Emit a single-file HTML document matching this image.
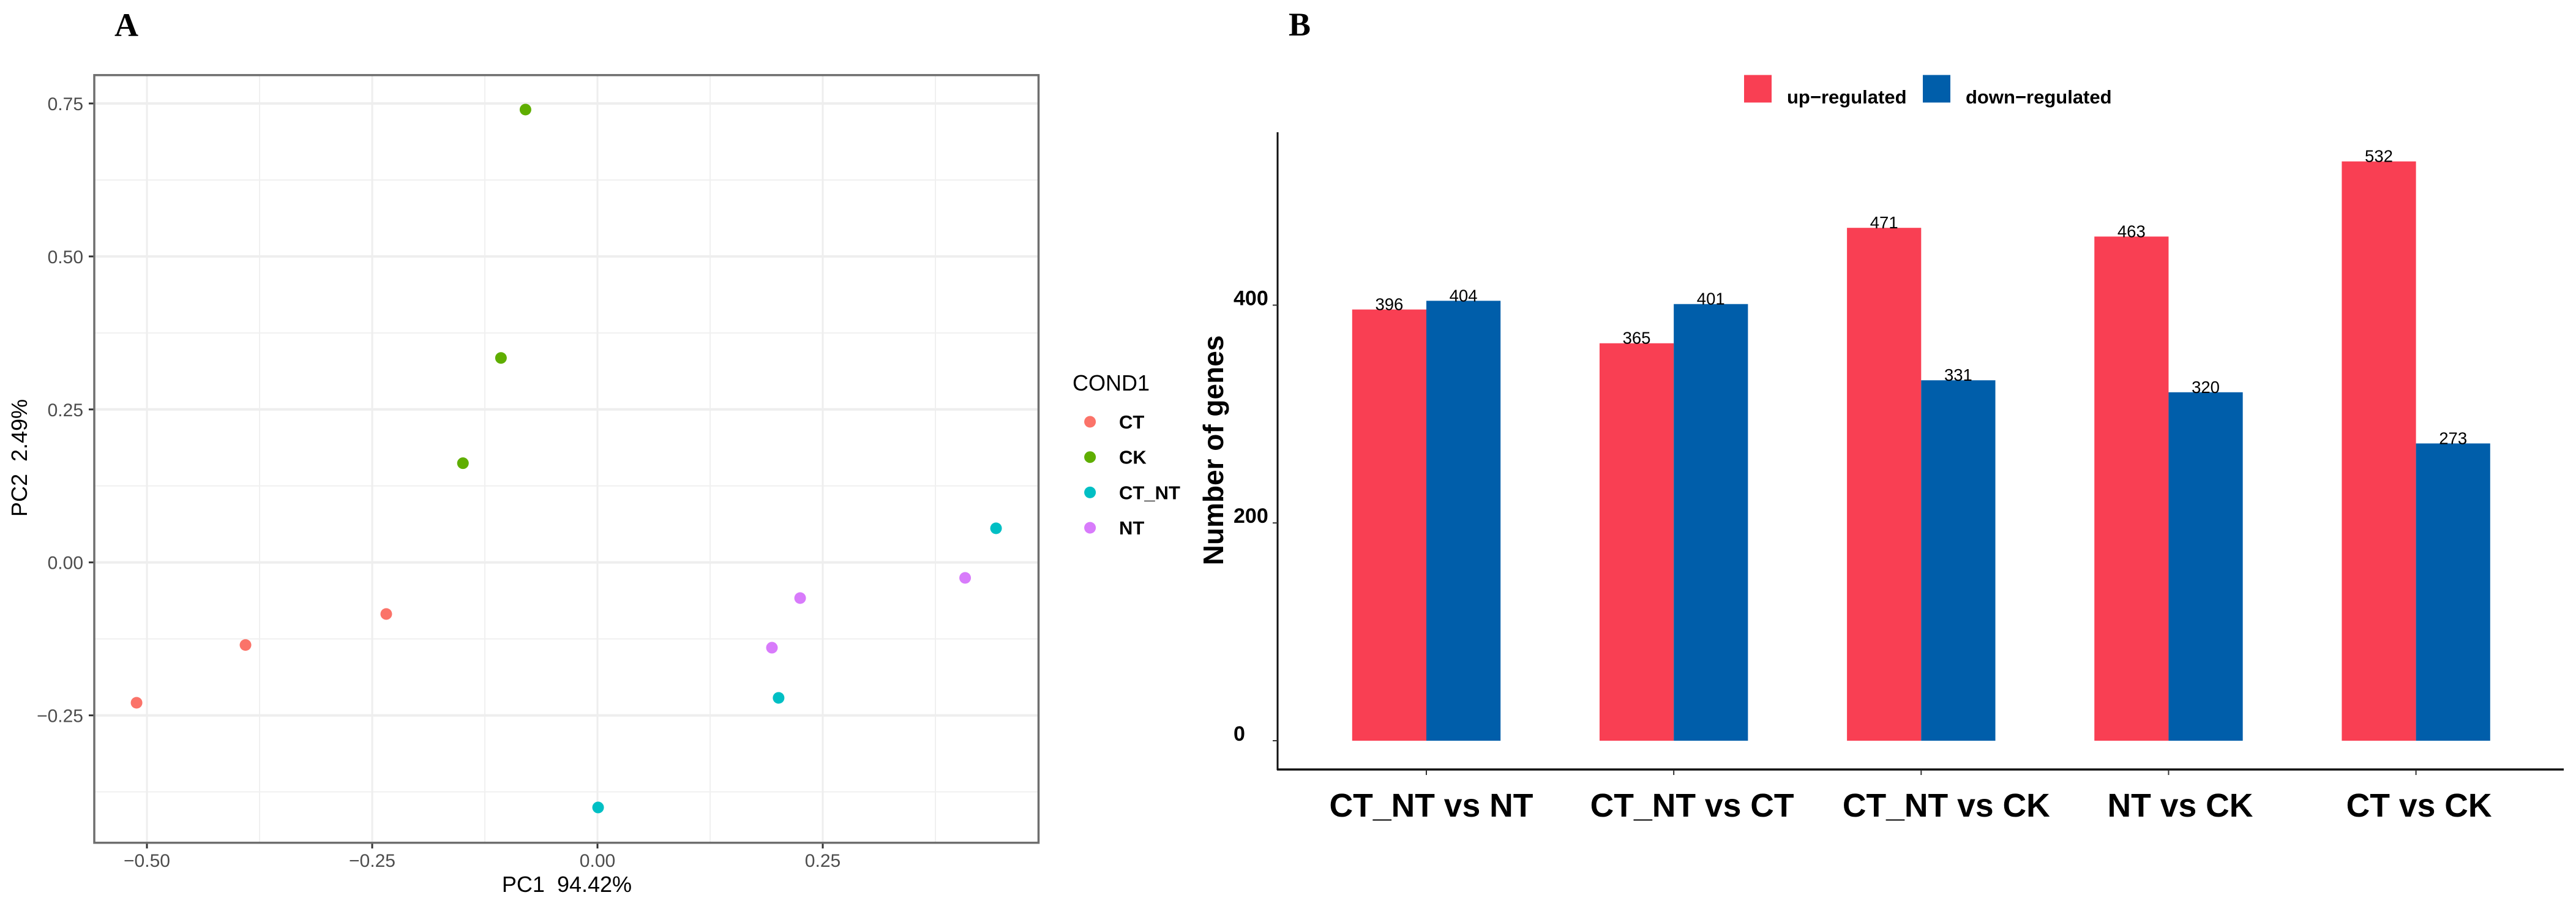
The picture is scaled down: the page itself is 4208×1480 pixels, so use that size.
<!DOCTYPE html>
<html lang="en">
<head>
<meta charset="utf-8">
<title>PCA plot and differentially expressed gene counts</title>
<style>
  html, body { margin: 0; padding: 0; background: #fff; width: 4208px; height: 1480px; overflow: hidden; }
  svg { display: block; }
  text { font-family: "Liberation Sans", sans-serif; }
  .panel-tag { font-family: "Liberation Serif", serif; font-weight: bold; font-size: 54px; fill: #000; }
</style>
</head>
<body>
<svg id="figure" xmlns="http://www.w3.org/2000/svg" width="4208" height="1480" viewBox="0 0 4208 1480">
  <rect x="0" y="0" width="4208" height="1480" fill="#ffffff"/>
  <text class="panel-tag" x="187" y="59">A</text>
  <text class="panel-tag" x="2105" y="58">B</text>

  <g id="pca-grid"></g>
  <g id="pca-axes"></g>
  <rect x="154" y="122.7" width="1542.5" height="1254" fill="none" stroke="#6e6e6e" stroke-width="3.5"/>
  <g id="pca-points"></g>
  <text x="926" y="1457" text-anchor="middle" font-size="36" xml:space="preserve" style="white-space:pre">PC1  94.42%</text>
  <text transform="translate(44 748) rotate(-90)" text-anchor="middle" font-size="36" xml:space="preserve" style="white-space:pre">PC2  2.49%</text>

  <text x="1752" y="638" font-size="36">COND1</text>
  <g id="pca-legend"></g>

  <g id="bar-axes"></g>
  <g id="bars"></g>
  <text transform="translate(1998 735.5) rotate(-90)" text-anchor="middle" font-size="46" font-weight="bold">Number of genes</text>

  <g>
    <rect x="2849" y="122.5" width="45" height="45" fill="#f93f53"/>
    <text x="2919" y="169" font-size="31" font-weight="bold">up−regulated</text>
    <rect x="3141" y="122.5" width="45" height="45" fill="#005eaa"/>
    <text x="3211" y="169" font-size="31" font-weight="bold">down−regulated</text>
  </g>
</svg>

<script>
// ---- Panel A data ----
const pcaGroups = ["CT", "CK", "CT_NT", "NT"];
const ctPc1 = [-0.5115, -0.3906, -0.2344];
const ctPc2 = [-0.2294, -0.1350, -0.0843];
const ckPc1 = [-0.0799, -0.1071, -0.1493];
const ckPc2 = [0.7400, 0.3341, 0.1621];
const ctNtPc1 = [0.0007, 0.2010, 0.4423];
const ctNtPc2 = [-0.4005, -0.2214, 0.0557];
const ntPc1 = [0.1936, 0.2249, 0.4080];
const ntPc2 = [-0.1394, -0.0583, -0.0253];
const pcaXMajor = [-0.5, -0.25, 0, 0.25];
const pcaXMinor = [-0.375, -0.125, 0.125, 0.375];
const pcaYMajor = [-0.25, 0, 0.25, 0.5, 0.75];
const pcaYMinor = [-0.375, -0.125, 0.125, 0.375, 0.625];
const pcaXLabels = ["−0.50", "−0.25", "0.00", "0.25"];
const pcaYLabels = ["−0.25", "0.00", "0.25", "0.50", "0.75"];

// ---- Panel B data ----
const comparisons = ["CT_NT vs NT", "CT_NT vs CT", "CT_NT vs CK", "NT vs CK", "CT vs CK"];
const upRegulated = [396, 365, 471, 463, 532];
const downRegulated = [404, 401, 331, 320, 273];
const barYTicks = [0, 200, 400];

const SVGNS = "http://www.w3.org/2000/svg";
function make(parentId, tag, attrs, content) {
  const el = document.createElementNS(SVGNS, tag);
  for (const k in attrs) el.setAttribute(k, attrs[k]);
  if (content !== undefined) el.textContent = content;
  document.getElementById(parentId).appendChild(el);
  return el;
}

// Axis functions
function xA(v) { return 976 + 1472 * v; }
function yA(v) { return 918.7 - 999.6 * v; }
function xB(i) { return 2330 + 404.15 * i; }
function yB(v) { return 1210 - 1.7788 * v; }

function drawPcaGrid() {
  const left = 156, right = 1695, top = 124, bottom = 1375;
  pcaYMinor.forEach(function (v) {
    const el = make("pca-grid", "line", { x1: left, x2: right, y1: yA(v), y2: yA(v), stroke: "#f0f0f0", "stroke-width": 2 });
    
    
  });
  pcaXMinor.forEach(function (v) {
    const el = make("pca-grid", "line", { x1: xA(v), x2: xA(v), y1: top, y2: bottom, stroke: "#f0f0f0", "stroke-width": 2 });
    
    
  });
  pcaYMajor.forEach(function (v) {
    const el = make("pca-grid", "line", { x1: left, x2: right, y1: yA(v), y2: yA(v), stroke: "#eeeeee", "stroke-width": 4 });
    
    
  });
  pcaXMajor.forEach(function (v) {
    const el = make("pca-grid", "line", { x1: xA(v), x2: xA(v), y1: top, y2: bottom, stroke: "#eeeeee", "stroke-width": 3 });
    
    
  });
}

function drawPcaAxes() {
  pcaXMajor.forEach(function (v, i) {
    const tick = make("pca-axes", "line", { x1: xA(v), x2: xA(v), y1: 1377, y2: 1386, stroke: "#333333", "stroke-width": 3 });
    
    
    const label = make("pca-axes", "text", { x: xA(v), y: 1416, "text-anchor": "middle", "font-size": 30, fill: "#4d4d4d" }, pcaXLabels[i]);
    
    
  });
  pcaYMajor.forEach(function (v, i) {
    const tick = make("pca-axes", "line", { x1: 145, x2: 154, y1: yA(v), y2: yA(v), stroke: "#333333", "stroke-width": 3 });
    
    
    const label = make("pca-axes", "text", { x: 136, y: yA(v) + 11, "text-anchor": "end", "font-size": 30, fill: "#4d4d4d" }, pcaYLabels[i]);
    
    
  });
}

function drawPcaPoints() {
  const series = [
    { xs: ctPc1, ys: ctPc2, color: "#fb7369" },
    { xs: ckPc1, ys: ckPc2, color: "#5fae00" },
    { xs: ctNtPc1, ys: ctNtPc2, color: "#00bfc4" },
    { xs: ntPc1, ys: ntPc2, color: "#d87bfb" }
  ];
  series.forEach(function (s, g) {
    s.xs.forEach(function (x, i) {
      const dot = make("pca-points", "circle", { cx: xA(x), cy: yA(s.ys[i]), r: 9.5, fill: s.color });
      
      
    });
    const cy = 689 + 57.7 * g;
    const key = make("pca-legend", "circle", { cx: 1780.6, cy: cy, r: 9.5, fill: s.color });
    
    
    const text = make("pca-legend", "text", { x: 1828, y: cy + 11, "font-size": 31, "font-weight": "bold" }, pcaGroups[g]);
    
    
  });
}

function drawBarAxes() {
  const yLine = make("bar-axes", "line", { x1: 2087, x2: 2087, y1: 216, y2: 1258, stroke: "#111111", "stroke-width": 3 });
  
  
  const xLine = make("bar-axes", "line", { x1: 2086, x2: 4188, y1: 1257, y2: 1257, stroke: "#111111", "stroke-width": 3.5 });
  
  
  barYTicks.forEach(function (v) {
    const tick = make("bar-axes", "line", { x1: 2079, x2: 2087, y1: yB(v), y2: yB(v), stroke: "#333333", "stroke-width": 2 });
    
    
    const label = make("bar-axes", "text", { x: 2015, y: yB(v), "font-size": 34, "font-weight": "bold" }, String(v));
    
    
  });
  const labelNudge = [8, 30, 41, 19, 5];
  comparisons.forEach(function (name, i) {
    const tick = make("bar-axes", "line", { x1: xB(i), x2: xB(i), y1: 1258, y2: 1266, stroke: "#333333", "stroke-width": 2 });
    
    
    const label = make("bar-axes", "text", { x: xB(i) + labelNudge[i], y: 1334, "text-anchor": "middle", "font-size": 53.5, "font-weight": "bold" }, name);
    
    
  });
}

function drawBars() {
  const w = 121.2;
  comparisons.forEach(function (name, i) {
    const up = upRegulated[i], down = downRegulated[i];
    const r1 = make("bars", "rect", { x: xB(i) - w, y: yB(up), width: w, height: yB(0) - yB(up), fill: "#f93f53" });
    
    
    const r2 = make("bars", "rect", { x: xB(i), y: yB(down), width: w, height: yB(0) - yB(down), fill: "#005eaa" });
    
    
    const t1 = make("bars", "text", { x: xB(i) - w / 2, y: yB(up) + 1, "text-anchor": "middle", "font-size": 27.5 }, String(up));
    
    
    const t2 = make("bars", "text", { x: xB(i) + w / 2, y: yB(down) + 1, "text-anchor": "middle", "font-size": 27.5 }, String(down));
    
    
  });
}

drawPcaGrid();
drawPcaAxes();
drawPcaPoints();
drawBarAxes();
drawBars();
</script>
</body>
</html>
